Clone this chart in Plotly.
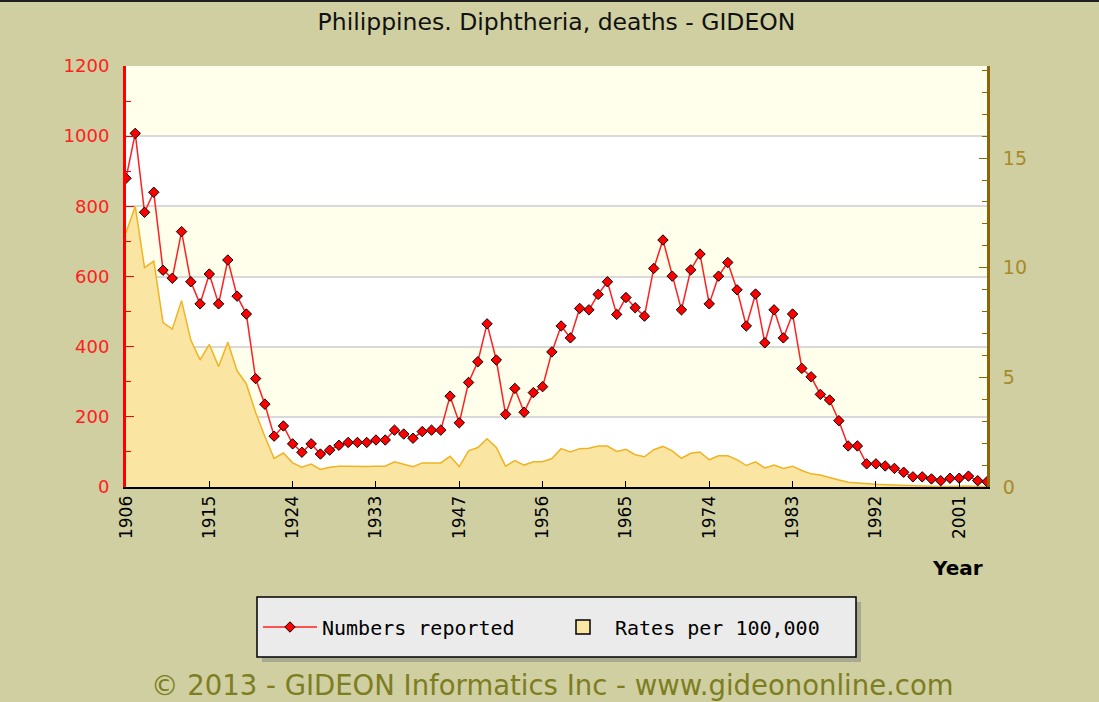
import plotly.graph_objects as go

# ---- data ----
years = list(range(1906, 1942)) + list(range(1947, 2005))
deaths = [880, 1008, 783, 840, 618, 595, 728, 585, 522, 607,
          522, 647, 544, 493, 309, 236, 145, 174, 123, 99,
          123, 94, 105, 119, 127, 127, 127, 134, 134, 162,
          151, 139, 158, 162, 162, 259, 183, 298, 357, 465,
          362, 207, 281, 213, 269, 286, 385, 459, 425, 509,
          505, 549, 585, 492, 540, 511, 487, 623, 704, 601,
          505, 619, 664, 522, 601, 640, 562, 459, 550, 411,
          505, 425, 493, 338, 314, 264, 248, 189, 117, 117,
          66, 66, 60, 53, 42, 29, 29, 23, 18, 25,
          25, 31, 18, 15]
rates = [11.6, 12.8, 10.0, 10.3, 7.5, 7.2, 8.5, 6.7, 5.8, 6.5,
         5.5, 6.6, 5.3, 4.7, 3.4, 2.3, 1.3, 1.55, 1.1, 0.9,
         1.05, 0.8, 0.9, 0.95, 0.95, 0.93, 0.93, 0.95, 0.95, 1.15,
         1.05, 0.93, 1.1, 1.1, 1.1, 1.4, 0.93, 1.65, 1.8, 2.2,
         1.8, 0.95, 1.2, 1.0, 1.15, 1.15, 1.3, 1.75, 1.6, 1.75,
         1.77, 1.87, 1.87, 1.62, 1.72, 1.47, 1.38, 1.7, 1.85, 1.65,
         1.31, 1.54, 1.6, 1.24, 1.42, 1.42, 1.25, 0.98, 1.15, 0.87,
         1.0, 0.85, 0.95, 0.75, 0.6, 0.55, 0.42, 0.32, 0.22, 0.18,
         0.15, 0.12, 0.1, 0.08, 0.07, 0.04, 0.04, 0.03, 0.02, 0.03,
         0.03, 0.04, 0.02, 0.02]
tick_step = 9
left_ticks = [0, 200, 400, 600, 800, 1000, 1200]
right_ticks = [0, 5, 10, 15]

title = "Philippines. Diphtheria, deaths - GIDEON"
footer = "© 2013 - GIDEON Informatics Inc - www.gideononline.com"

# ---- figure ----
W, H = 1099, 702
ML, MR, MT, MB = 126, 112, 66, 215
PW, PH = W - ML - MR, H - MT - MB

xs = list(range(len(years)))
tickvals = xs[::tick_step]
ticktext = [str(years[i]) for i in tickvals]

def px_x(p):
    return (p - ML) / PW

def px_y(p):
    return (H - MB - p) / PH

AREA_FILL = "#fbe5a2"
AREA_LINE = "#f0b323"

fig = go.Figure()
fig.add_trace(go.Scatter(
    x=xs, y=rates, name="Rates per 100,000", yaxis="y",
    mode="lines", fill="tozeroy", fillcolor=AREA_FILL,
    line=dict(color=AREA_LINE, width=1.5), showlegend=False,
))
fig.add_trace(go.Scatter(
    x=xs, y=deaths, name="Numbers reported", yaxis="y2",
    mode="lines+markers",
    line=dict(color="#ff2020", width=1.5),
    marker=dict(symbol="diamond", size=8, color="#ff0000",
                line=dict(color="#000000", width=1)),
    legendrank=1,
))
# legend key for the area series (square swatch)
fig.add_trace(go.Scatter(
    x=[None], y=[None], name="Rates per 100,000", yaxis="y",
    mode="markers",
    marker=dict(symbol="square", size=14, color=AREA_FILL,
                line=dict(color="#000000", width=1.5)),
    legendrank=2,
))

shapes = []
band_col = "#ffffeb"
ymax = left_ticks[-1]
for lo in (200, 600, 1000):
    shapes.append(dict(type="rect", xref="paper", yref="paper",
                       x0=0, x1=1, y0=lo / ymax, y1=(lo + 200) / ymax,
                       fillcolor=band_col, line=dict(width=0), layer="below"))
# legend box with shadow
shapes.append(dict(type="rect", xref="paper", yref="paper",
                   x0=px_x(262), x1=px_x(861), y0=px_y(602), y1=px_y(662),
                   fillcolor="#a9a990", line=dict(width=0), layer="above"))
shapes.append(dict(type="rect", xref="paper", yref="paper",
                   x0=px_x(257), x1=px_x(856), y0=px_y(597), y1=px_y(657),
                   fillcolor="#ebebeb", line=dict(color="#000000", width=1.5),
                   layer="above"))
# thin dark frame line on top edge
shapes.append(dict(type="line", xref="paper", yref="paper",
                   x0=px_x(0), x1=px_x(W), y0=px_y(1), y1=px_y(1),
                   line=dict(color="#202020", width=2), layer="above"))

fig.update_layout(
    width=W, height=H,
    margin=dict(l=ML, r=MR, t=MT, b=MB),
    paper_bgcolor="#cfcfa1",
    plot_bgcolor="#ffffff",
    font=dict(family="DejaVu Sans", color="#000000"),
    title=dict(text=title, x=0.5, xref="paper", xanchor="center",
               y=1 - 22 / H, yanchor="middle",
               font=dict(size=23.5, color="#111111", family="DejaVu Sans")),
    xaxis=dict(range=[0, len(xs) - 1], tickmode="array", tickvals=tickvals,
               ticktext=ticktext, tickangle=-90, ticks="inside", ticklen=6,
               tickcolor="#000000", showline=True, linecolor="#000000",
               linewidth=2, showgrid=False, zeroline=False,
               tickfont=dict(size=17, color="#000000", family="DejaVu Sans")),
    yaxis=dict(side="right", range=[0, 19.2], tickvals=right_ticks,
               ticks="inside", ticklen=8, tickcolor="#8b6508",
               minor=dict(dtick=1, ticks="inside", ticklen=5, tickcolor="#8b6508"),
               showline=True, linecolor="#8b6508", linewidth=3,
               showgrid=False, zeroline=False, ticklabelstandoff=9,
               tickfont=dict(size=19, color="#a88a2a", family="DejaVu Sans")),
    yaxis2=dict(side="left", overlaying="y", range=[0, ymax], tickvals=left_ticks,
                ticks="inside", ticklen=8, tickcolor="#ff0000",
                minor=dict(dtick=100, ticks="inside", ticklen=5, tickcolor="#ff0000"),
                showline=True, linecolor="#ff0000", linewidth=3,
                showgrid=True, gridcolor="#d9d9d9", gridwidth=1.5,
                zeroline=False, ticklabelstandoff=10,
                tickfont=dict(size=18, color="#ff2020", family="DejaVu Sans")),
    legend=dict(orientation="h", x=px_x(258), y=px_y(627), xanchor="left",
                yanchor="middle", bgcolor="rgba(0,0,0,0)", borderwidth=0,
                entrywidth=224, itemwidth=54,
                font=dict(size=20, family="DejaVu Sans Mono", color="#000000")),
    shapes=shapes,
    annotations=[
        dict(text="<b>Year</b>", xref="paper", yref="paper",
             x=px_x(957), y=px_y(568), showarrow=False,
             xanchor="center", yanchor="middle",
             font=dict(size=20, color="#000000", family="DejaVu Sans")),
        dict(text=footer, xref="paper", yref="paper",
             x=px_x(552), y=px_y(685), showarrow=False,
             xanchor="center", yanchor="middle",
             font=dict(size=27.5, color="#7d7d22", family="DejaVu Sans")),
    ],
    hovermode=False,
)

fig.write_html("out.html", config={"displayModeBar": False},
               post_script="document.body.style.margin='0';")
